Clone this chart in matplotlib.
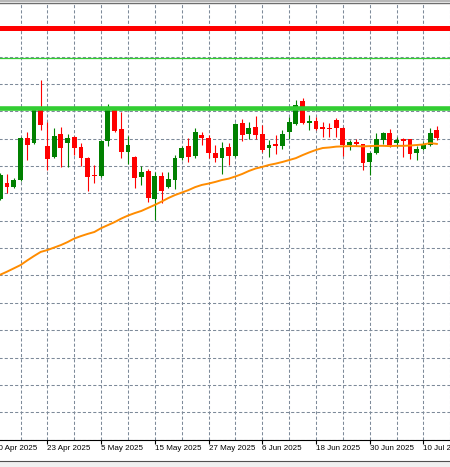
import numpy as np
import matplotlib.pyplot as plt
from matplotlib.patches import Rectangle
from matplotlib.lines import Line2D

# daily candles
opens = [3080, 3138, 3123, 3149, 3303, 3284, 3405, 3273, 3233, 3317,
         3284, 3306, 3270, 3230, 3167, 3164, 3292, 3405, 3336, 3251,
         3233, 3160, 3182, 3080, 3164, 3123, 3149, 3230, 3273, 3237,
         3314, 3303, 3248, 3230, 3270, 3237, 3357, 3317, 3343, 3317,
         3266, 3281, 3273, 3325, 3354, 3438, 3357, 3365, 3343, 3339,
         3368, 3339, 3277, 3288, 3281, 3215, 3248, 3295, 3321, 3284,
         3299, 3299, 3248, 3262, 3277, 3332]
highs = [3175, 3171, 3156, 3306, 3325, 3412, 3515, 3361, 3339, 3343,
         3317, 3310, 3284, 3233, 3204, 3295, 3427, 3409, 3398, 3310,
         3237, 3200, 3189, 3178, 3178, 3178, 3240, 3273, 3303, 3339,
         3325, 3314, 3277, 3288, 3284, 3357, 3372, 3361, 3383, 3350,
         3295, 3314, 3332, 3379, 3442, 3449, 3387, 3379, 3361, 3357,
         3376, 3343, 3295, 3299, 3281, 3251, 3321, 3325, 3336, 3306,
         3303, 3299, 3273, 3288, 3339, 3346]
lows = [3076, 3102, 3120, 3145, 3222, 3281, 3332, 3186, 3230, 3197,
        3197, 3240, 3200, 3109, 3138, 3160, 3273, 3325, 3230, 3208,
        3120, 3131, 3069, 3003, 3065, 3120, 3116, 3222, 3215, 3230,
        3277, 3230, 3215, 3171, 3204, 3233, 3292, 3299, 3299, 3251,
        3233, 3244, 3262, 3299, 3350, 3354, 3332, 3332, 3306, 3306,
        3306, 3237, 3259, 3273, 3186, 3167, 3244, 3281, 3270, 3270,
        3233, 3226, 3222, 3259, 3273, 3295]
closes = [3167, 3123, 3149, 3303, 3277, 3405, 3350, 3226, 3310, 3266,
          3303, 3266, 3230, 3160, 3164, 3292, 3405, 3328, 3251, 3277,
          3156, 3178, 3083, 3164, 3109, 3153, 3230, 3266, 3233, 3325,
          3303, 3248, 3230, 3266, 3237, 3354, 3314, 3339, 3314, 3259,
          3277, 3273, 3317, 3361, 3423, 3357, 3365, 3336, 3336, 3336,
          3339, 3277, 3288, 3281, 3211, 3248, 3299, 3321, 3277, 3295,
          3292, 3244, 3262, 3277, 3321, 3303]
ma_values = [2803, 2814, 2826, 2838, 2855, 2871, 2886, 2893, 2902, 2911,
             2922, 2935, 2944, 2952, 2959, 2973, 2984, 2995, 3008, 3019,
             3028, 3036, 3047, 3058, 3070, 3083, 3094, 3103, 3112, 3123,
             3131, 3136, 3142, 3149, 3154, 3162, 3171, 3182, 3191, 3197,
             3204, 3209, 3215, 3222, 3229, 3240, 3250, 3259, 3266, 3268,
             3271, 3272, 3273, 3273, 3272, 3273, 3274, 3274, 3273, 3274,
             3274, 3275, 3277, 3279, 3284, 3281]

tick_bars = [-1, 7, 15, 23, 31, 39, 47, 55, 63]
tick_labels = ['10 Apr 2025', '23 Apr 2025', '5 May 2025', '15 May 2025',
               '27 May 2025', '6 Jun 2025', '18 Jun 2025', '30 Jun 2025',
               '10 Jul 2025']

red_level = 3706
green_thin_level = 3594
green_level = 3411

W, H = 450, 467
fig = plt.figure(figsize=(W / 100, H / 100), dpi=100)
px_left, px_right = -7.7, 450.3
ax = fig.add_axes([px_left / W, (H - 440) / H, (px_right - px_left) / W, (440 - 2.5) / H])
ax.set_xlim(-1.2, 65.6)
ax.set_ylim(2198.5, 3798)

# grid
ax.set_yticks(np.arange(2200, 3800, 100))
ax.set_xticks(tick_bars, tick_labels)
ax.set_xticks([b + 4 for b in tick_bars], minor=True)
ax.grid(True, which='both', color='#7d8a99', linestyle=(0, (3, 2)), linewidth=0.75, zorder=0)
ax.set_axisbelow(True)
ax.tick_params(axis='y', length=0, labelleft=False)
ax.tick_params(axis='x', which='minor', length=0)
ax.tick_params(axis='x', which='major', length=3, width=0.8, pad=0.8, labelsize=5.8, color='black')
for lbl in ax.get_xticklabels():
    lbl.set_ha('left')
    lbl.set_family('Liberation Sans')

for side in ['left', 'right']:
    ax.spines[side].set_visible(False)
ax.spines['bottom'].set_color('black')
ax.spines['bottom'].set_linewidth(0.8)
ax.spines['top'].set_color('#6e6e6e')
ax.spines['top'].set_linewidth(1.0)

# candles
x = np.arange(len(opens))
o = np.array(opens)
c = np.array(closes)
colors = np.where(c >= o, '#008000', '#ff0000')
ax.vlines(x, lows, highs, colors=colors, linewidth=0.8, zorder=3)
ax.bar(x, np.maximum(np.abs(c - o), 3.0), bottom=np.minimum(o, c), width=0.72,
       color=colors, linewidth=0, zorder=4)

ax.plot(x, ma_values, color='#ff8c00', linewidth=1.4, zorder=5)

ax.axhline(red_level, color='#ff0000', linewidth=3.6, zorder=6)
ax.axhline(green_thin_level, color='#32cd32', linewidth=0.9, zorder=6)
ax.axhline(green_level, color='#32cd32', linewidth=3.3, zorder=6)

# window frame bits
fig.patches.append(Rectangle((0, 0), 1, 6 / H, transform=fig.transFigure,
                             facecolor='#f0f0f0', edgecolor='none'))
fig.add_artist(Line2D([0, 1], [6 / H, 6 / H], transform=fig.transFigure,
                      color='#505050', linewidth=0.8))
fig.patches.append(Rectangle((0, 1 - 1.5 / H), 1, 1.5 / H, transform=fig.transFigure,
                             facecolor='#b8b8b8', edgecolor='none'))

fig.savefig('out.png', dpi=100)
